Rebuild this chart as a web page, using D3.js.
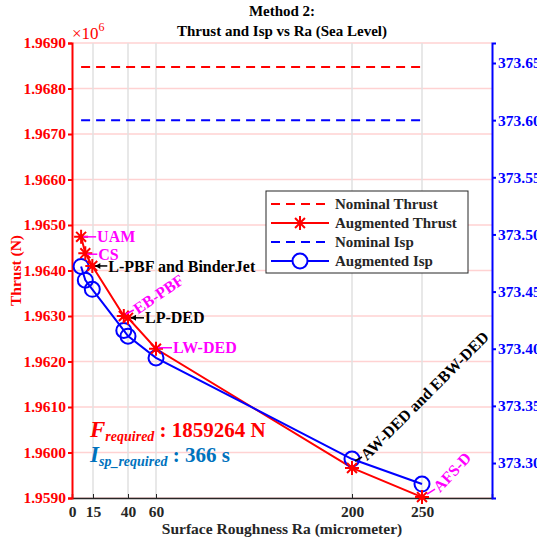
<!DOCTYPE html>
<meta charset="utf-8">
<style>
body { margin: 0; background: #fff; }
svg text { font-family: "Liberation Serif", "Times New Roman", serif; font-weight: bold; }
</style>
<svg width="537" height="544"></svg>
<script src="https://cdnjs.cloudflare.com/ajax/libs/d3/7.8.5/d3.min.js"></script>
<script>

// surface roughness Ra (micrometer) for each process
var ra = [6.5, 9.5, 14.5, 37, 40, 60, 200, 250];
var processes = ["UAM", "CS", "L-PBF and BinderJet", "EB-PBF", "LP-DED", "LW-DED", "AW-DED and EBW-DED", "AFS-D"];
// augmented thrust (x10^6 N) and Isp (s)
var thrust = [1.96474, 1.96438, 1.96410, 1.96300, 1.96296, 1.96228, 1.95966, 1.95902];
var isp = [373.472, 373.460, 373.452, 373.416, 373.411, 373.392, 373.3035, 373.2816];
var nominalThrust = 1.96847;
var nominalIsp = 373.600;
var xTicks = [0, 15, 40, 60, 200, 250];
var thrustTicks = [1.959, 1.960, 1.961, 1.962, 1.963, 1.964, 1.965, 1.966, 1.967, 1.968, 1.969];
var ispTicks = [373.30, 373.35, 373.40, 373.45, 373.50, 373.55, 373.60, 373.65];

var svg = d3.select("svg"),
    margin = {top: 43, right: 45, bottom: 46, left: 72},
    width = +svg.attr("width") - margin.left - margin.right,
    height = +svg.attr("height") - margin.top - margin.bottom;

var g = svg.append("g").attr("transform", "translate(" + margin.left + "," + margin.top + ")");

var x = d3.scaleLinear().domain([0, 300]).range([0, width]);
var yL = d3.scaleLinear().domain([1.959, 1.969]).range([height, 0]);
var yR = d3.scaleLinear().domain([373.2694, 373.6675]).range([height, 0]);

// grid
g.append("g").selectAll("line").data(thrustTicks).enter().append("line")
    .attr("x1", 0).attr("x2", width)
    .attr("y1", function(d) { return yL(d); }).attr("y2", function(d) { return yL(d); })
    .attr("stroke", "#ffd2d2").attr("stroke-width", 1.5);
g.append("g").selectAll("line").data(xTicks.slice(1)).enter().append("line")
    .attr("x1", function(d) { return x(d); }).attr("x2", function(d) { return x(d); })
    .attr("y1", 0).attr("y2", height)
    .attr("stroke", "#e0e0e0").attr("stroke-width", 1.5);

// axes
var xAxis = g.append("g").attr("transform", "translate(0," + height + ")")
    .call(d3.axisBottom(x).tickValues(xTicks).tickSize(-4).tickPadding(8));
xAxis.select(".domain").attr("stroke", "#262626").attr("stroke-width", 1.5);
xAxis.selectAll(".tick line").attr("stroke", "#262626");
xAxis.selectAll("text").attr("fill", "#262626").style("font-size", "15.5px");

var leftAxis = g.append("g")
    .call(d3.axisLeft(yL).tickValues(thrustTicks).tickFormat(d3.format(".4f")).tickSize(4).tickPadding(2));
leftAxis.select(".domain").attr("stroke", "#ff0000").attr("stroke-width", 2);
leftAxis.selectAll(".tick line").attr("stroke", "#ff0000").attr("stroke-width", 2);
leftAxis.selectAll("text").attr("fill", "#ff0000").style("font-size", "15.5px");

var rightAxis = g.append("g").attr("transform", "translate(" + width + ",0)")
    .call(d3.axisRight(yR).tickValues(ispTicks).tickFormat(d3.format(".2f")).tickSize(4).tickPadding(2));
rightAxis.select(".domain").attr("stroke", "#0000ff").attr("stroke-width", 2);
rightAxis.selectAll(".tick line").attr("stroke", "#0000ff").attr("stroke-width", 2);
rightAxis.selectAll("text").attr("fill", "#0000ff").style("font-size", "15.5px");

// exponent
var ex = svg.append("text").attr("x", margin.left).attr("y", 39).attr("fill", "#ff0000")
    .style("font-size", "17px").style("font-weight", "normal");
ex.append("tspan").text("\u00d710");
ex.append("tspan").attr("dy", -8).style("font-size", "12px").text("6");

// titles
svg.append("text").attr("x", 282).attr("y", 16).attr("text-anchor", "middle").style("font-size", "15px").text("Method 2:");
svg.append("text").attr("x", 282).attr("y", 36).attr("text-anchor", "middle").style("font-size", "15px").text("Thrust and Isp vs Ra (Sea Level)");
svg.append("text").attr("x", margin.left + width / 2).attr("y", 534).attr("text-anchor", "middle")
    .attr("fill", "#262626").style("font-size", "15.5px").text("Surface Roughness Ra (micrometer)");
svg.append("text").attr("transform", "translate(21," + (margin.top + height / 2) + ")rotate(-90)")
    .attr("text-anchor", "middle").attr("fill", "#ff0000").style("font-size", "15.5px").text("Thrust (N)");

// nominal lines
g.append("line")
    .attr("x1", x(ra[0])).attr("x2", x(ra[ra.length - 1]))
    .attr("y1", yL(nominalThrust)).attr("y2", yL(nominalThrust))
    .attr("stroke", "#ff0000").attr("stroke-width", 2).attr("stroke-dasharray", "9,6");
g.append("line")
    .attr("x1", x(ra[0])).attr("x2", x(ra[ra.length - 1]))
    .attr("y1", yR(nominalIsp)).attr("y2", yR(nominalIsp))
    .attr("stroke", "#0000ff").attr("stroke-width", 2).attr("stroke-dasharray", "9,6");

// augmented lines
var lineT = d3.line().x(function(d, i) { return x(ra[i]); }).y(function(d) { return yL(d); });
var lineI = d3.line().x(function(d, i) { return x(ra[i]); }).y(function(d) { return yR(d); });
g.append("path").attr("d", lineT(thrust)).attr("fill", "none").attr("stroke", "#ff0000").attr("stroke-width", 2);
g.append("path").attr("d", lineI(isp)).attr("fill", "none").attr("stroke", "#0000ff").attr("stroke-width", 2);

function star(s) {
  var d = s * 0.707;
  return "M" + (-s) + ",0H" + s + "M0," + (-s) + "V" + s +
         "M" + (-d) + "," + (-d) + "L" + d + "," + d + "M" + (-d) + "," + d + "L" + d + "," + (-d);
}

g.append("g").selectAll("circle").data(isp).enter().append("circle")
    .attr("cx", function(d, i) { return x(ra[i]); }).attr("cy", function(d) { return yR(d); })
    .attr("r", 7.5).attr("fill", "none").attr("stroke", "#0000ff").attr("stroke-width", 2);
g.append("g").selectAll("path").data(thrust).enter().append("path")
    .attr("transform", function(d, i) { return "translate(" + x(ra[i]) + "," + yL(d) + ")"; })
    .attr("d", star(7)).attr("stroke", "#ff0000").attr("stroke-width", 2);

// annotations: [series, dx1, dy1, dx2, dy2, rotation, colour, arrow]
var ann = [
  ["t", 2, 0, 15, 0, 0, "#ff00ff", false],
  ["t", 2, 1, 12, 1, 0, "#ff00ff", false],
  ["t", 3, 0, 15, 0, 0, "#000000", true],
  ["t", 2, -2, 10, -6, -34, "#ff00ff", false],
  ["t", 3, 0, 16, 0, 0, "#000000", true],
  ["t", 2, -1, 16, -1, 0, "#ff00ff", false],
  ["i", 3, 2, 10, -2, -45, "#000000", false],
  ["t", 5, -3, 13, -8, -47, "#ff00ff", false]
];
var annG = g.append("g");
ann.forEach(function(a, i) {
  var px = x(ra[i]), py = a[0] === "t" ? yL(thrust[i]) : yR(isp[i]);
  annG.append("line")
      .attr("x1", px + a[1]).attr("y1", py + a[2]).attr("x2", px + a[3]).attr("y2", py + a[4])
      .attr("stroke", a[6]).attr("stroke-width", 1.5);
  if (a[7]) {
    annG.append("path")
        .attr("d", "M" + (px + a[1]) + "," + (py + a[2]) + "l5,-3v6z")
        .attr("fill", a[6]);
  }
  annG.append("text")
      .attr("transform", "translate(" + (px + a[3] + 1) + "," + (py + a[4]) + ")rotate(" + a[5] + ")")
      .attr("dy", "0.35em").attr("fill", a[6]).style("font-size", "16px").text(processes[i]);
});

// required values
var f = g.append("text").attr("x", 18).attr("y", 394).attr("fill", "#ff0000").style("font-size", "21px");
f.append("tspan").style("font-style", "italic").style("font-size", "23px").text("F");
f.append("tspan").attr("dy", 4).style("font-style", "italic").style("font-size", "14px").text("required");
f.append("tspan").attr("dy", -4).text(" : 1859264 N");
var s = g.append("text").attr("x", 18).attr("y", 419).attr("fill", "#0072bd").style("font-size", "21px");
s.append("tspan").style("font-style", "italic").style("font-size", "23px").text("I");
s.append("tspan").attr("dy", 4).style("font-style", "italic").style("font-size", "14px").text("sp_required");
s.append("tspan").attr("dy", -4).text(" : 366 s");

// legend
var leg = svg.append("g").attr("transform", "translate(266,191)");
leg.append("rect").attr("width", 202).attr("height", 82).attr("fill", "#fff").attr("stroke", "#262626").attr("stroke-width", 1);
var items = [
  ["Nominal Thrust", "#ff0000", true, null],
  ["Augmented Thrust", "#ff0000", false, "star"],
  ["Nominal Isp", "#0000ff", true, null],
  ["Augmented Isp", "#0000ff", false, "circle"]
];
items.forEach(function(it, i) {
  var yy = 13 + i * 19;
  leg.append("line").attr("x1", 5).attr("x2", 63).attr("y1", yy).attr("y2", yy)
      .attr("stroke", it[1]).attr("stroke-width", 2).attr("stroke-dasharray", it[2] ? "9,6" : null);
  if (it[3] === "star") leg.append("path").attr("transform", "translate(34," + yy + ")").attr("d", star(7)).attr("stroke", it[1]).attr("stroke-width", 2);
  if (it[3] === "circle") leg.append("circle").attr("cx", 34).attr("cy", yy).attr("r", 7.5).attr("fill", "#fff").attr("stroke", it[1]).attr("stroke-width", 2);
  leg.append("text").attr("x", 69).attr("y", yy).attr("dy", "0.35em").style("font-size", "15px").attr("fill", "#262626").text(it[0]);
});

</script>
